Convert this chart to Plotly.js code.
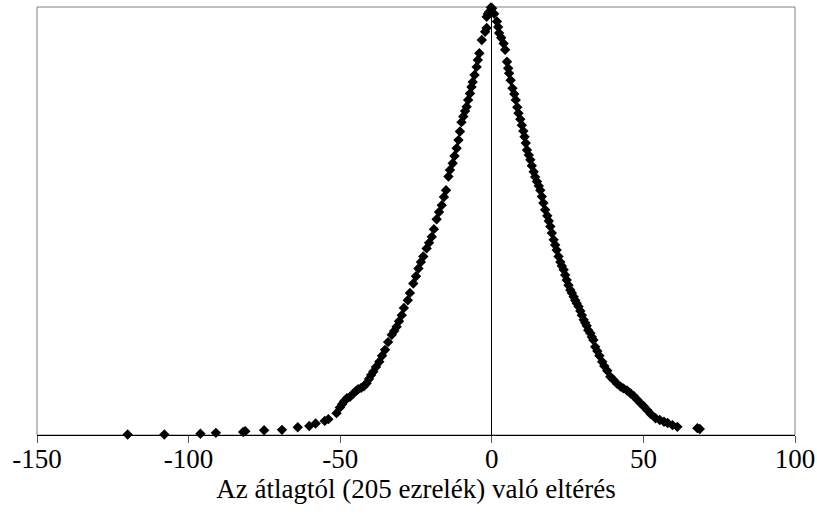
<!DOCTYPE html>
<html>
<head>
<meta charset="utf-8">
<script src="https://cdn.plot.ly/plotly-3.0.1.min.js"></script>
<style>html,body{margin:0;padding:0;background:#fff;}#chart{width:817px;height:517px;}</style>
</head>
<body>
<div id="chart"></div>
<script>
// Deviation from the average (per mille) and relative height of each point
const xValues = [
  -120.1,-108.0,-96.1,-91.0,-82.0,-81.3,-75.1,-69.2,-64.0,-60.2,-58.1,-55.1,-53.9,-51.2,
  -50.1,-49.4,-48.7,-47.8,-46.8,-45.8,-44.8,-44.1,-43.1,-42.2,-41.3,-40.5,-39.8,-39.1,-38.2,-37.1,
  -36.2,-35.2,-34.2,-33.0,-32.2,-31.4,-30.6,-29.7,-29.0,-27.7,-27.0,-25.9,-25.0,-24.2,-23.4,-22.6,
  -21.5,-20.7,-19.8,-19.1,-18.2,-17.4,-16.5,-15.8,-15.1,-14.3,-13.8,-12.9,-12.3,-11.6,-11.0,-10.5,
  -10.0,-9.4,-8.8,-8.3,-7.8,-7.2,-6.7,-6.3,-5.7,-5.0,-4.6,-4.1,-3.3,-2.2,-1.7,-1.7,-1.3,-0.8,-0.3,
  0.1,0.8,1.7,2.1,2.4,3.1,3.9,4.4,5.0,5.4,5.7,6.2,6.8,7.4,7.9,8.4,8.8,9.4,9.9,10.4,10.8,11.2,11.6,
  12.2,12.7,13.2,13.8,14.3,14.9,15.5,16.0,16.5,17.0,17.6,18.3,18.8,19.3,19.8,20.4,20.9,21.4,22.0,
  22.6,23.1,23.7,24.2,24.7,25.3,25.9,26.4,27.0,27.5,28.0,28.6,29.2,29.7,30.3,30.8,31.3,31.8,32.5,
  33.0,33.5,34.1,34.8,35.5,36.4,37.1,38.1,39.1,40.1,41.3,42.5,43.4,44.6,45.8,46.8,47.9,49.1,50.1,
  51.3,52.4,54.0,55.4,56.8,58.0,59.6,61.2,67.8,68.6
];
const yValues = [
  0.1,0.1,0.3,0.5,0.7,0.9,1.1,1.2,1.8,2.1,2.7,3.3,3.7,5.1,
  6.4,7.2,7.9,8.6,8.9,9.6,10.3,10.7,11.0,11.4,12.1,13.1,14.0,14.8,15.9,17.1,
  18.5,19.9,21.7,23.4,24.3,25.3,26.6,28.0,29.7,31.5,33.2,35.4,37.1,38.9,40.4,41.7,
  43.6,44.9,46.3,48.1,50.4,52.1,53.7,55.6,57.2,60.4,61.9,63.5,65.2,67.0,68.9,70.9,
  73.1,74.4,75.7,76.7,78.3,79.8,81.3,82.5,84.1,86.0,87.6,89.2,92.3,94.2,95.1,97.7,98.4,98.9,99.9,
  99.7,98.4,96.6,95.3,93.9,92.8,91.5,90.0,87.2,85.7,84.5,82.9,81.0,79.7,78.3,76.6,75.2,73.8,72.4,71.0,69.7,68.2,66.6,
  65.4,64.3,62.9,61.5,60.3,59.2,58.2,57.2,55.7,54.2,52.6,51.2,50.0,48.7,47.2,45.6,44.4,43.2,41.7,
  40.4,39.5,38.6,37.4,36.2,35.0,33.9,33.2,32.3,31.5,30.8,30.0,29.0,28.0,26.9,26.2,25.5,24.5,23.8,
  22.9,22.2,20.6,19.6,18.5,17.1,16.1,15.0,13.6,12.9,12.0,11.3,10.9,10.4,9.7,9.1,8.3,7.4,6.7,
  5.8,4.9,3.9,3.5,3.1,2.8,2.3,1.9,1.6,1.4
];
const xTickValues = [-150, -100, -50, 0, 50, 100];
const xTitle = 'Az átlagtól (205 ezrelék) való eltérés';

const trace = {
  x: xValues,
  y: yValues,
  type: 'scatter',
  mode: 'markers',
  cliponaxis: false,
  marker: {symbol: 'diamond', size: 8, color: '#000000', line: {width: 0}},
  hoverinfo: 'x+y'
};

const layout = {
  width: 817,
  height: 517,
  margin: {l: 37, r: 22, t: 7, b: 82, pad: 0},
  paper_bgcolor: '#ffffff',
  plot_bgcolor: '#ffffff',
  showlegend: false,
  font: {family: '"Liberation Serif", "Times New Roman", serif', color: '#000000', size: 27},
  xaxis: {
    range: [-150, 100],
    tickvals: xTickValues,
    ticktext: xTickValues.map(String),
    ticks: 'outside',
    ticklen: 7,
    tickcolor: '#555555',
    tickwidth: 1,
    ticklabeloverflow: 'allow',
    ticklabelstandoff: -7,
    showgrid: false,
    showline: true,
    linecolor: '#000000',
    linewidth: 1,
    zeroline: true,
    zerolinecolor: '#000000',
    zerolinewidth: 1,
    automargin: false,
    tickfont: {size: 27},
    title: {text: xTitle, font: {size: 27}, standoff: 4}
  },
  yaxis: {
    range: [0, 100],
    showticklabels: false,
    showgrid: false,
    zeroline: false,
    showline: false,
    ticks: ''
  },
  shapes: [{
    type: 'rect', xref: 'paper', yref: 'paper', x0: 0, x1: 1, y0: 0, y1: 1,
    line: {color: '#808080', width: 1}, fillcolor: 'rgba(0,0,0,0)', layer: 'below'
  }]
};

Plotly.newPlot('chart', [trace], layout, {displayModeBar: false, staticPlot: true});
</script>
</body>
</html>
